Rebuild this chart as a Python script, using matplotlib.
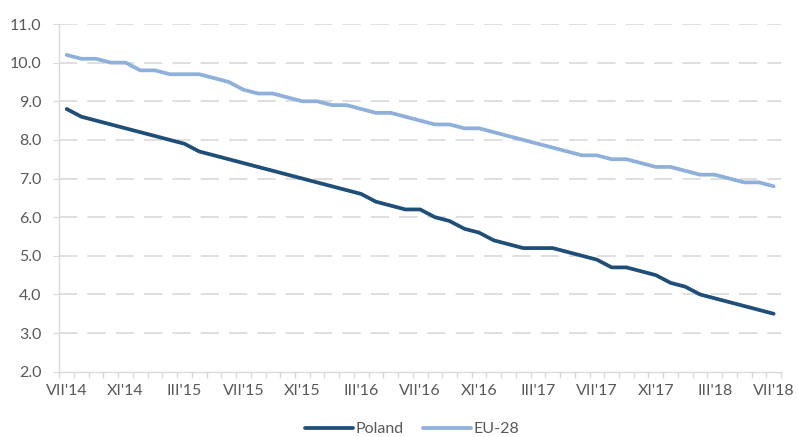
import matplotlib
matplotlib.use("Agg")
import matplotlib.pyplot as plt
import numpy as np

plt.rcParams['font.family'] = ['Lato', 'DejaVu Sans']

# Monthly unemployment rate (%), July 2014 - July 2018
poland = [8.8, 8.6, 8.5, 8.4, 8.3, 8.2, 8.1, 8.0, 7.9, 7.7, 7.6, 7.5, 7.4,
          7.3, 7.2, 7.1, 7.0, 6.9, 6.8, 6.7, 6.6, 6.4, 6.3, 6.2, 6.2,
          6.0, 5.9, 5.7, 5.6, 5.4, 5.3, 5.2, 5.2, 5.2, 5.1, 5.0, 4.9,
          4.7, 4.7, 4.6, 4.5, 4.3, 4.2, 4.0, 3.9, 3.8, 3.7, 3.6, 3.5]
eu28 = [10.2, 10.1, 10.1, 10.0, 10.0, 9.8, 9.8, 9.7, 9.7, 9.7, 9.6, 9.5, 9.3,
        9.2, 9.2, 9.1, 9.0, 9.0, 8.9, 8.9, 8.8, 8.7, 8.7, 8.6, 8.5,
        8.4, 8.4, 8.3, 8.3, 8.2, 8.1, 8.0, 7.9, 7.8, 7.7, 7.6, 7.6,
        7.5, 7.5, 7.4, 7.3, 7.3, 7.2, 7.1, 7.1, 7.0, 6.9, 6.9, 6.8]
tick_labels = ["VII'14", "XI'14", "III'15", "VII'15", "XI'15", "III'16", "VII'16",
               "XI'16", "III'17", "VII'17", "XI'17", "III'18", "VII'18"]

W, H = 798, 437
fig = plt.figure(figsize=(W / 100, H / 100), dpi=100)
left, right, top, bottom = 59.3, 781, 24, 371.7
ax = fig.add_axes([left / W, 1 - bottom / H, (right - left) / W, (bottom - top) / H])

x = np.arange(len(poland))
ax.plot(x, poland, color='#1f4e79', lw=2.7, solid_capstyle='round',
        solid_joinstyle='round', label='Poland', zorder=3)
ax.plot(x, eu28, color='#8eb0db', lw=2.7, solid_capstyle='round',
        solid_joinstyle='round', label='EU-28', zorder=3)

ax.set_xlim(-0.5, len(poland) - 0.5)
ax.set_ylim(2, 11)

grid_c = '#d9d9d9'
text_c = '#595959'
fs = 11.5

ax.set_yticks(np.arange(2, 11.01, 1))
ax.set_yticklabels([f"{v:.1f}" for v in np.arange(2, 11.01, 1)])
for v in np.arange(3, 11.01, 1):
    ax.axhline(v, color=grid_c, lw=1.2, dashes=(11, 6), zorder=1)

ax.set_xticks(x[::4])
ax.set_xticklabels(tick_labels)
ax.set_xticks(np.arange(-0.5, len(poland), 1), minor=True)

for s in ['top', 'right']:
    ax.spines[s].set_visible(False)
for s in ['left', 'bottom']:
    ax.spines[s].set_color(grid_c)
    ax.spines[s].set_linewidth(1.0)

ax.tick_params(axis='y', length=4, color=grid_c, labelcolor=text_c,
               labelsize=fs, pad=9)
ax.tick_params(axis='x', which='major', length=0, labelcolor=text_c,
               labelsize=fs, pad=9)
ax.tick_params(axis='x', which='minor', length=4, color=grid_c, width=1.0)

fig.legend(loc='center', bbox_to_anchor=(412 / W, 1 - 429 / H), ncol=2,
           frameon=False, fontsize=fs, handlelength=3.0, handletextpad=0.15,
           columnspacing=1.2, labelcolor=text_c)

fig.savefig('out.png', dpi=100)
